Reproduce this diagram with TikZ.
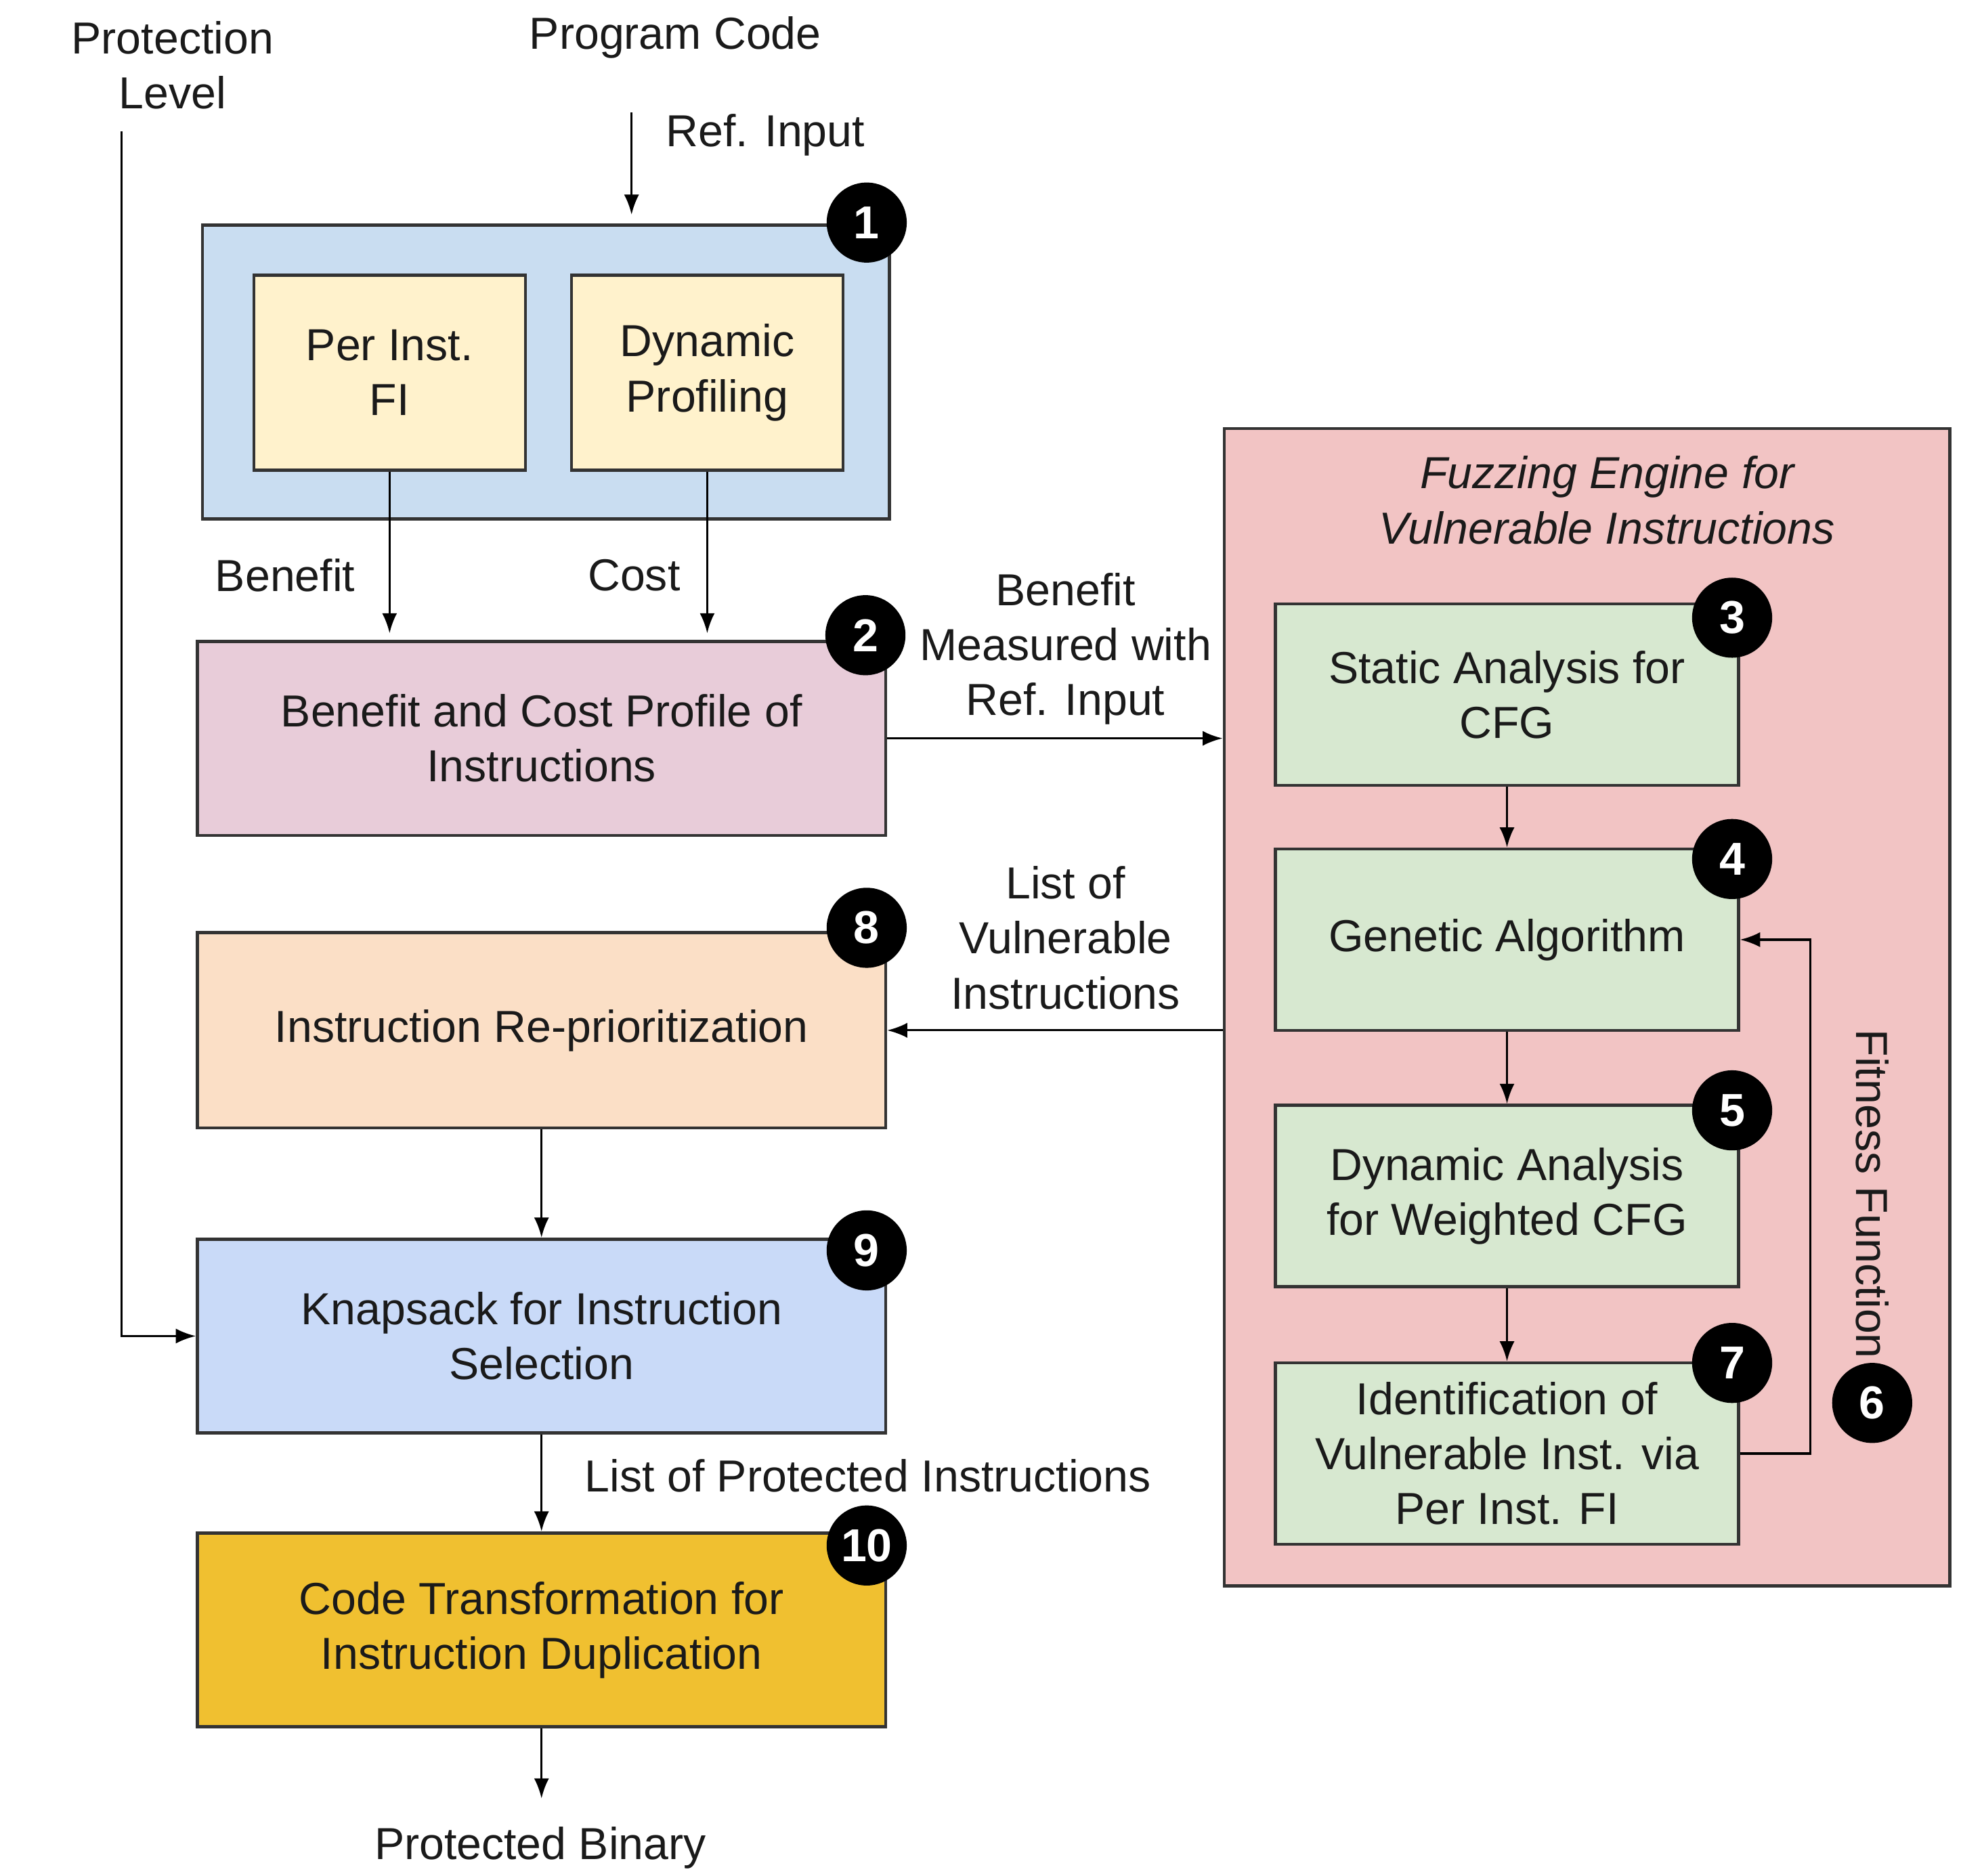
\documentclass[tikz,border=0pt]{standalone}
\usepackage{fontspec}
\setmainfont{Liberation Sans}
\usetikzlibrary{positioning, arrows.meta, calc}
\definecolor{boxblue}{HTML}{C9DDF1}
\definecolor{cream}{HTML}{FFF2CC}
\definecolor{mauve}{HTML}{E8CCD9}
\definecolor{rosa}{HTML}{F2C4C4}
\definecolor{sage}{HTML}{D7E8D0}
\definecolor{peach}{HTML}{FBDFC6}
\definecolor{cornflower}{HTML}{C9DAF8}
\definecolor{gold}{HTML}{F0C030}
\definecolor{edgegray}{HTML}{333333}
\definecolor{textgray}{HTML}{1A1A1A}

\begin{document}
\begin{tikzpicture}[x=0.01cm, y=-0.01cm, >={Latex[length=1.6mm, width=1.2mm]},
          font=\fontsize{10.2}{12.5}\selectfont, text=textgray,
          blk/.style={draw=edgegray, line width=0.7pt, align=center, inner sep=2pt},
          nb/.style={circle, fill=black, text=white, inner sep=0pt, minimum size=6.4mm,
                     font=\fontsize{10.5}{11}\selectfont\bfseries},
          lb/.style={align=center, inner sep=1pt},
          ln/.style={->, line width=0.5pt, black}]
        \useasboundingbox (0,0) rectangle (1568,1500);
        % profiling stage
        \node[blk, fill=boxblue, minimum width=5.49cm, minimum height=2.35cm] (prf) at (436.5,297.5) {};
        \node[blk, fill=cream, minimum width=2.17cm, minimum height=1.56cm] (fi) at (311.5,298) {Per Inst.\\FI};
        \node[blk, fill=cream, minimum width=2.17cm, minimum height=1.56cm] (dp) at (565.5,298) {Dynamic\\Profiling};
        \node[blk, fill=mauve, minimum width=5.50cm, minimum height=1.55cm] (bc) at (433,590.5) {Benefit and Cost Profile of\\Instructions};
        \node[blk, fill=peach, minimum width=5.50cm, minimum height=1.56cm] (rp) at (433,824) {Instruction Re-prioritization};
        \node[blk, fill=cornflower, minimum width=5.50cm, minimum height=1.55cm] (ks) at (433,1068.5) {Knapsack for Instruction\\Selection};
        \node[blk, fill=gold, minimum width=5.50cm, minimum height=1.55cm] (ct) at (433,1303.5) {Code Transformation for\\Instruction Duplication};
        % fuzzing engine
        \node[blk, fill=rosa, minimum width=5.80cm, minimum height=9.25cm] (fz) at (1269,805.5) {};
        \node[lb, font=\fontsize{10.2}{12.5}\selectfont\itshape] (fzt) at (1285,400) {Fuzzing Engine for\\Vulnerable Instructions};
        \node[blk, fill=sage, minimum width=3.70cm, minimum height=1.45cm] (sa) at (1205,555.5) {Static Analysis for\\CFG};
        \node[blk, fill=sage, minimum width=3.70cm, minimum height=1.45cm] (ga) at (1205,751.5) {Genetic Algorithm};
        \node[blk, fill=sage, minimum width=3.70cm, minimum height=1.45cm] (da) at (1205,956.5) {Dynamic Analysis\\for Weighted CFG};
        \node[blk, fill=sage, minimum width=3.70cm, minimum height=1.45cm] (iv) at (1205,1162.5) {Identification of\\Vulnerable Inst. via\\Per Inst. FI};
        \node[lb, rotate=-90] (ff) at (1497,955) {Fitness Function};
        % inputs and outputs
        \node[lb] (pl) at (138,52) {Protection\\Level};
        \node[lb] (pc) at (540,30) {Program Code};
        \node[lb] (ri) at (612,108) {Ref. Input};
        \node[lb] (pb) at (432,1478) {Protected Binary};
        \node[lb] (bn) at (228,460) {Benefit};
        \node[lb] (cs) at (507,460) {Cost};
        \node[lb] (bm) at (852,519) {Benefit\\Measured with\\Ref. Input};
        \node[lb] (lv) at (852,750) {List of\\Vulnerable\\Instructions};
        \node[lb] (lp) at (694,1180) {List of Protected Instructions};
        \coordinate (pcin) at (505,90);
        \coordinate (plin) at (97,105);
        % step numbers
        \node[nb] (n1) at (693,178) {1};
        \node[nb] (n2) at (692,508) {2};
        \node[nb] (n3) at (1385,494) {3};
        \node[nb] (n4) at (1385,687) {4};
        \node[nb] (n5) at (1385,888) {5};
        \node[nb] (n6) at (1497,1122) {6};
        \node[nb] (n7) at (1385,1090) {7};
        \node[nb] (n8) at (693,742) {8};
        \node[nb] (n9) at (693,1000) {9};
        \node[nb] (n10) at (693,1236) {10};
        % connectors
        \draw[ln, shorten >=2pt] (pcin) -- (pcin |- prf.north);
        \draw[ln] (plin) |- (ks.west);
        \draw[ln, shorten >=1.5pt] (fi.south) -- (fi.south |- bc.north);
        \draw[ln, shorten >=1.5pt] (dp.south) -- (dp.south |- bc.north);
        \draw[ln] (bc.east) -- (bc.east -| fz.west);
        \draw[ln] (rp.east -| fz.west) -- (rp.east);
        \draw[ln] (sa) -- (ga);
        \draw[ln] (ga) -- (da);
        \draw[ln] (da) -- (iv);
        \draw[ln] (iv.east) -- ++(56,0) |- (ga.east);
        \draw[ln] (rp) -- (ks);
        \draw[ln] (ks) -- (ct);
        \draw[ln] (ct.south) -- ++(0,56);
      \end{tikzpicture}
\end{document}
